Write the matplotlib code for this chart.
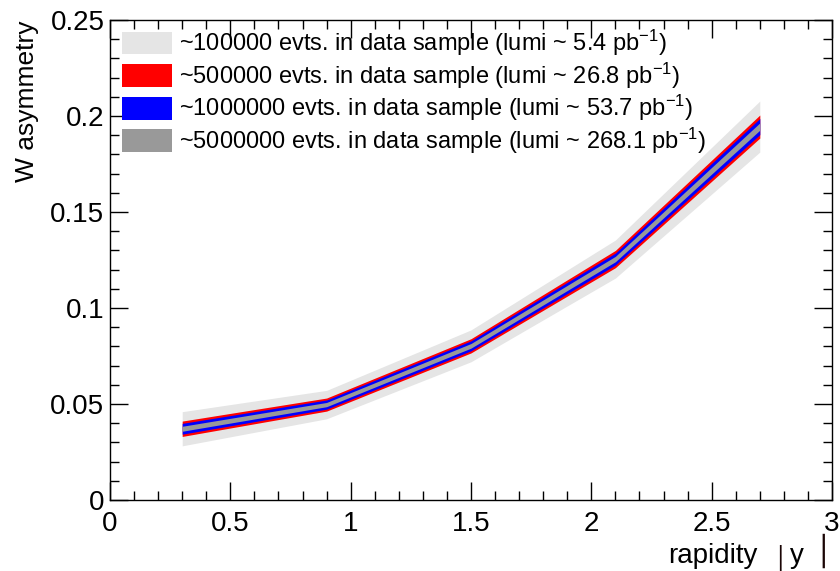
import matplotlib
matplotlib.use("Agg")
import matplotlib.pyplot as plt
from matplotlib.ticker import MultipleLocator

plt.rcParams['font.family'] = ['Liberation Sans', 'DejaVu Sans']
plt.rcParams['mathtext.fontset'] = 'custom'
plt.rcParams['mathtext.rm'] = 'Liberation Sans'
plt.rcParams['mathtext.it'] = 'Liberation Sans'

# rapidity bins and W asymmetry central values
rapidity = [0.3, 0.9, 1.5, 2.1, 2.7]
asym = [0.0371, 0.0497, 0.0803, 0.1255, 0.1945]

# statistical errors for each sample size
err_100k = [0.0089, 0.0074, 0.0083, 0.0099, 0.0133]
err_500k = [0.0040, 0.0034, 0.0037, 0.0045, 0.0060]
err_1M = [0.0028, 0.0024, 0.0026, 0.0031, 0.0042]
err_5M = [0.0013, 0.0011, 0.0012, 0.0014, 0.0019]

labels = [
    r'~100000 evts. in data sample (lumi ~ 5.4 pb$^{-1}$)',
    r'~500000 evts. in data sample (lumi ~ 26.8 pb$^{-1}$)',
    r'~1000000 evts. in data sample (lumi ~ 53.7 pb$^{-1}$)',
    r'~5000000 evts. in data sample (lumi ~ 268.1 pb$^{-1}$)',
]
colors = ['#e5e5e5', '#ff0000', '#0000ff', '#999999']

fig = plt.figure(figsize=(8.4, 5.71), dpi=100)
ax = fig.add_axes([110 / 840, 1 - 500 / 571, 722 / 840, 480 / 571])

for err, col, lab in zip([err_100k, err_500k, err_1M, err_5M], colors, labels):
    lo = [a - e for a, e in zip(asym, err)]
    hi = [a + e for a, e in zip(asym, err)]
    ax.fill_between(rapidity, lo, hi, color=col, lw=0, label=lab)

ax.set_xlim(0, 3)
ax.set_ylim(0, 0.25)
ax.xaxis.set_minor_locator(MultipleLocator(0.1))
ax.yaxis.set_minor_locator(MultipleLocator(0.01))
ax.set_xticks([0, 0.5, 1, 1.5, 2, 2.5, 3])
ax.set_xticklabels(['0', '0.5', '1', '1.5', '2', '2.5', '3'])
ax.set_yticks([0, 0.05, 0.1, 0.15, 0.2, 0.25])
ax.set_yticklabels(['0', '0.05', '0.1', '0.15', '0.2', '0.25'])
ax.tick_params(which='both', direction='in', top=True, right=True, width=1)
ax.tick_params(which='major', length=13, labelsize=20, pad=4)
ax.tick_params(which='minor', length=6.5)
ax.tick_params(axis='x', which='major', pad=8)
for s in ax.spines.values():
    s.set_linewidth(1)

ax.set_ylabel('W asymmetry', fontsize=19, loc='top', labelpad=8)

# x title in ROOT style: rapidity |y| with tall thin bars
ybase = (500 - 563) / 480
def px(x):
    return (x - 110) / 722
ax.text(px(758), ybase, 'rapidity', transform=ax.transAxes, fontsize=20,
        ha='right', va='baseline')
ax.text(px(797), ybase, 'y', transform=ax.transAxes, fontsize=20,
        ha='center', va='baseline')
ax.text(px(780), (500 - 558) / 480, '\u2502', transform=ax.transAxes, fontsize=16,
        family='DejaVu Sans', ha='center', va='center', color='#1a0505')
ax.text(px(823), (500 - 551) / 480, '\u2502', transform=ax.transAxes, fontsize=21,
        family='DejaVu Sans', ha='center', va='center', color='#1a0505')

ax.legend(loc='upper left', bbox_to_anchor=(12 / 722, 472 / 480), frameon=False,
          fontsize=17, handlelength=2.1, handleheight=1.1, handletextpad=0.3,
          labelspacing=0.1, borderpad=0, borderaxespad=0)

fig.savefig('out.png', dpi=100)
